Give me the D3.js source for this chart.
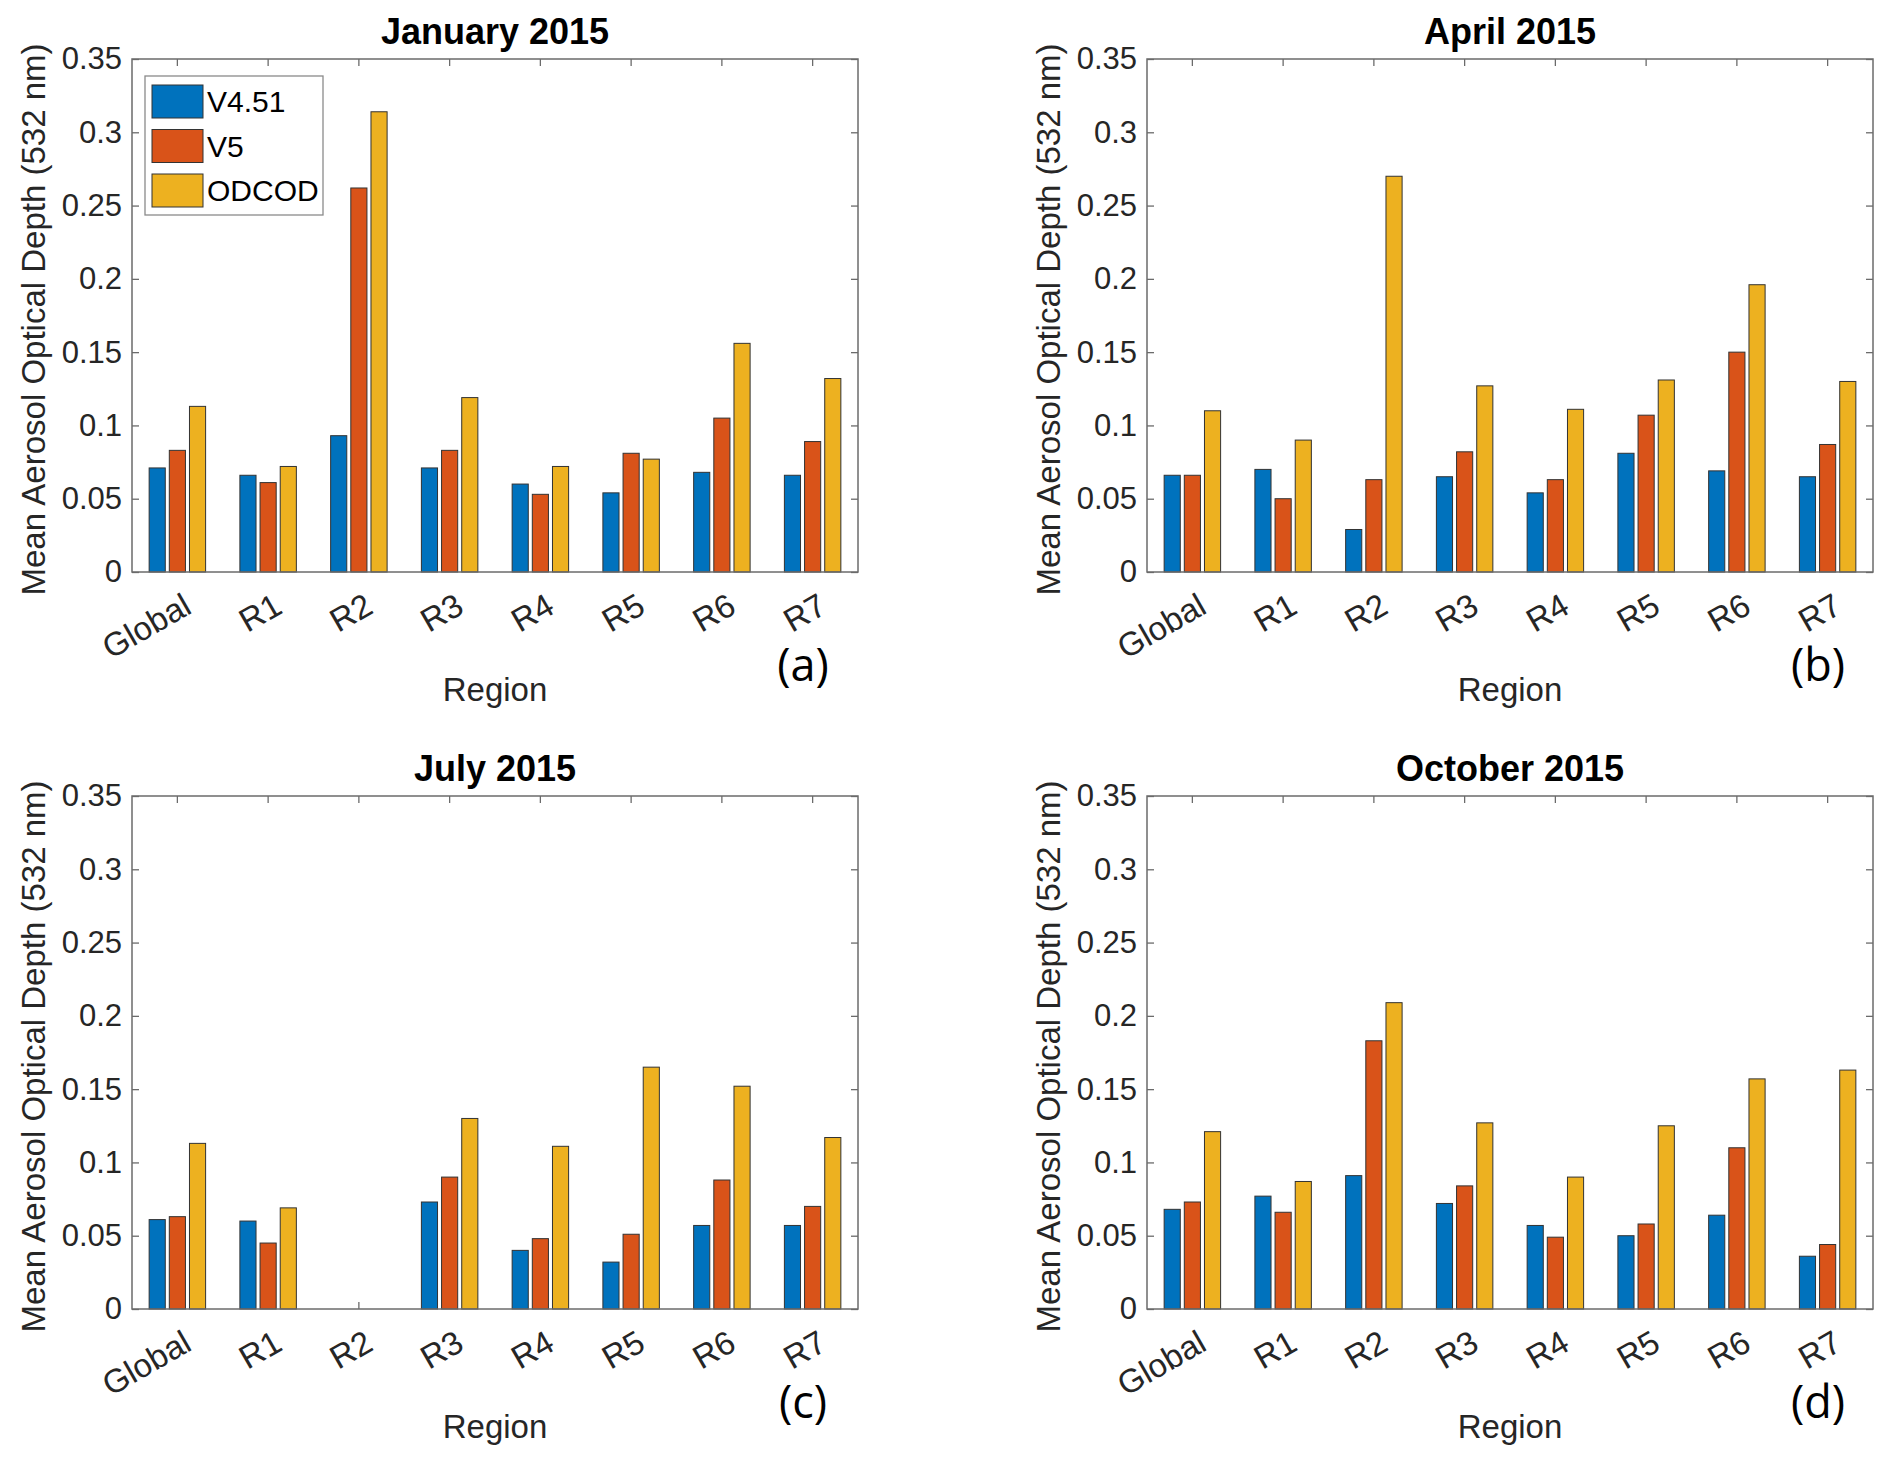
<!DOCTYPE html>
<html>
<head>
<meta charset="utf-8">
<script src="https://cdn.jsdelivr.net/npm/d3@7"></script>
<style>
  body { margin: 0; background: #fff; }
  svg { display: block; font-family: "Liberation Sans", Arial, sans-serif; }
</style>
</head>
<body>
<div id="chart"></div>
<script>
const regions = ['Global', 'R1', 'R2', 'R3', 'R4', 'R5', 'R6', 'R7']
const seriesNames = ['V4.51', 'V5', 'ODCOD']
const colors = ['#0072BD', '#D95319', '#EDB120']
const titles = ['January 2015', 'April 2015', 'July 2015', 'October 2015']
const tags = ['(a)', '(b)', '(c)', '(d)']
const yTicks = [0, 0.05, 0.1, 0.15, 0.2, 0.25, 0.3, 0.35]
const yTickLabels = ['0', '0.05', '0.1', '0.15', '0.2', '0.25', '0.3', '0.35']

// mean AOD per region
const janV451 = [0.071, 0.066, 0.093, 0.071, 0.060, 0.054, 0.068, 0.066]
const janV5 = [0.083, 0.061, 0.262, 0.083, 0.053, 0.081, 0.105, 0.089]
const janODCOD = [0.113, 0.072, 0.314, 0.119, 0.072, 0.077, 0.156, 0.132]
const aprV451 = [0.066, 0.070, 0.029, 0.065, 0.054, 0.081, 0.069, 0.065]
const aprV5 = [0.066, 0.050, 0.063, 0.082, 0.063, 0.107, 0.150, 0.087]
const aprODCOD = [0.110, 0.090, 0.270, 0.127, 0.111, 0.131, 0.196, 0.130]
const julV451 = [0.061, 0.060, null, 0.073, 0.040, 0.032, 0.057, 0.057]
const julV5 = [0.063, 0.045, null, 0.090, 0.048, 0.051, 0.088, 0.070]
const julODCOD = [0.113, 0.069, null, 0.130, 0.111, 0.165, 0.152, 0.117]
const octV451 = [0.068, 0.077, 0.091, 0.072, 0.057, 0.050, 0.064, 0.036]
const octV5 = [0.073, 0.066, 0.183, 0.084, 0.049, 0.058, 0.110, 0.044]
const octODCOD = [0.121, 0.087, 0.209, 0.127, 0.090, 0.125, 0.157, 0.163]

const panelData = [
  [janV451, janV5, janODCOD],
  [aprV451, aprV5, aprODCOD],
  [julV451, julV5, julODCOD],
  [octV451, octV5, octODCOD]
]

const W = 1892
const H = 1463
const pw = 726
const ph = 513
const origins = [
  {x: 132, y: 59},
  {x: 1147, y: 59},
  {x: 132, y: 796},
  {x: 1147, y: 796}
]

const svg = d3.select('#chart').append('svg')
  .attr('width', W)
  .attr('height', H)

const x = d3.scaleBand().domain(regions).range([0, pw])
const y = d3.scaleLinear().domain([0, 0.35]).range([ph, 0])
const xs = d3.scaleBand().domain(seriesNames)
  .range([-x.bandwidth() / 3, x.bandwidth() / 3])
  .paddingInner(0.2).paddingOuter(0.1)

const axisColor = '#6b6b6b'
const textColor = '#262626'

panelData.forEach((vals, p) => {
  const g = svg.append('g')
    .attr('transform', `translate(${origins[p].x},${origins[p].y})`)

  // inside ticks on all four sides
  const left = g.append('g')
    .call(d3.axisLeft(y).tickValues(yTicks)
      .tickFormat((d, i) => yTickLabels[i])
      .tickSizeInner(-7).tickSizeOuter(0).tickPadding(10))
  g.append('g').attr('transform', `translate(${pw},0)`)
    .call(d3.axisRight(y).tickValues(yTicks).tickFormat('')
      .tickSizeInner(-7).tickSizeOuter(0))
  g.append('g')
    .call(d3.axisTop(x).tickFormat('').tickSizeInner(-7).tickSizeOuter(0))
  const bottom = g.append('g').attr('transform', `translate(0,${ph})`)
    .call(d3.axisBottom(x).tickSizeInner(-7).tickSizeOuter(0))

  g.selectAll('.domain').remove()
  g.selectAll('.tick line').attr('stroke', axisColor).attr('stroke-width', 1.3)

  left.selectAll('text')
    .attr('fill', textColor)
    .style('font-size', '31px')
    .style('font-family', '"Liberation Sans", Arial, sans-serif')

  bottom.selectAll('text')
    .attr('x', 0).attr('y', 0).attr('dy', null)
    .attr('transform', 'translate(16,40) rotate(-30)')
    .attr('fill', textColor)
    .style('text-anchor', 'end')
    .style('font-size', '33px')
    .style('font-family', '"Liberation Sans", Arial, sans-serif')

  // bars
  seriesNames.forEach((s, si) => {
    g.append('g').selectAll('rect')
      .data(vals[si].map((v, i) => ({region: regions[i], v})).filter(d => d.v != null))
      .join('rect')
      .attr('x', d => x(d.region) + x.bandwidth() / 2 + xs(s))
      .attr('y', d => y(d.v))
      .attr('width', xs.bandwidth())
      .attr('height', d => ph - y(d.v))
      .attr('fill', colors[si])
      .attr('stroke', '#333')
      .attr('stroke-width', 1)
  })

  // box
  g.append('rect')
    .attr('width', pw).attr('height', ph)
    .attr('fill', 'none')
    .attr('stroke', axisColor)
    .attr('stroke-width', 1.5)

  g.append('text')
    .attr('x', pw / 2).attr('y', -15)
    .attr('text-anchor', 'middle')
    .style('font-size', '36px')
    .style('font-weight', 'bold')
    .attr('fill', '#000')
    .text(titles[p])

  g.append('text')
    .attr('x', pw / 2).attr('y', ph + 129)
    .attr('text-anchor', 'middle')
    .style('font-size', '33px')
    .attr('fill', textColor)
    .text('Region')

  g.append('text')
    .attr('transform', `translate(-87,${ph / 2 + 4}) rotate(-90)`)
    .attr('text-anchor', 'middle')
    .style('font-size', '33px')
    .attr('fill', textColor)
    .text('Mean Aerosol Optical Depth (532 nm)')

  g.append('text')
    .attr('x', 671).attr('y', ph + 109)
    .attr('text-anchor', 'middle')
    .style('font-size', '45px')
    .style('font-family', '"Open Sans", "Noto Sans", sans-serif')
    .attr('fill', '#000')
    .text(tags[p])

  if (p === 0) {
    const lg = g.append('g').attr('transform', 'translate(13,17)')
    lg.append('rect')
      .attr('width', 178).attr('height', 139)
      .attr('fill', '#fff')
      .attr('stroke', '#8a8a8a')
      .attr('stroke-width', 1.3)
    seriesNames.forEach((s, si) => {
      lg.append('rect')
        .attr('x', 7).attr('y', 9 + si * 44.5)
        .attr('width', 51).attr('height', 33)
        .attr('fill', colors[si])
        .attr('stroke', '#333')
        .attr('stroke-width', 1)
      lg.append('text')
        .attr('x', 62).attr('y', 9 + si * 44.5 + 27)
        .style('font-size', '30px')
        .attr('fill', '#000')
        .text(s)
    })
  }
})
</script>
</body>
</html>
